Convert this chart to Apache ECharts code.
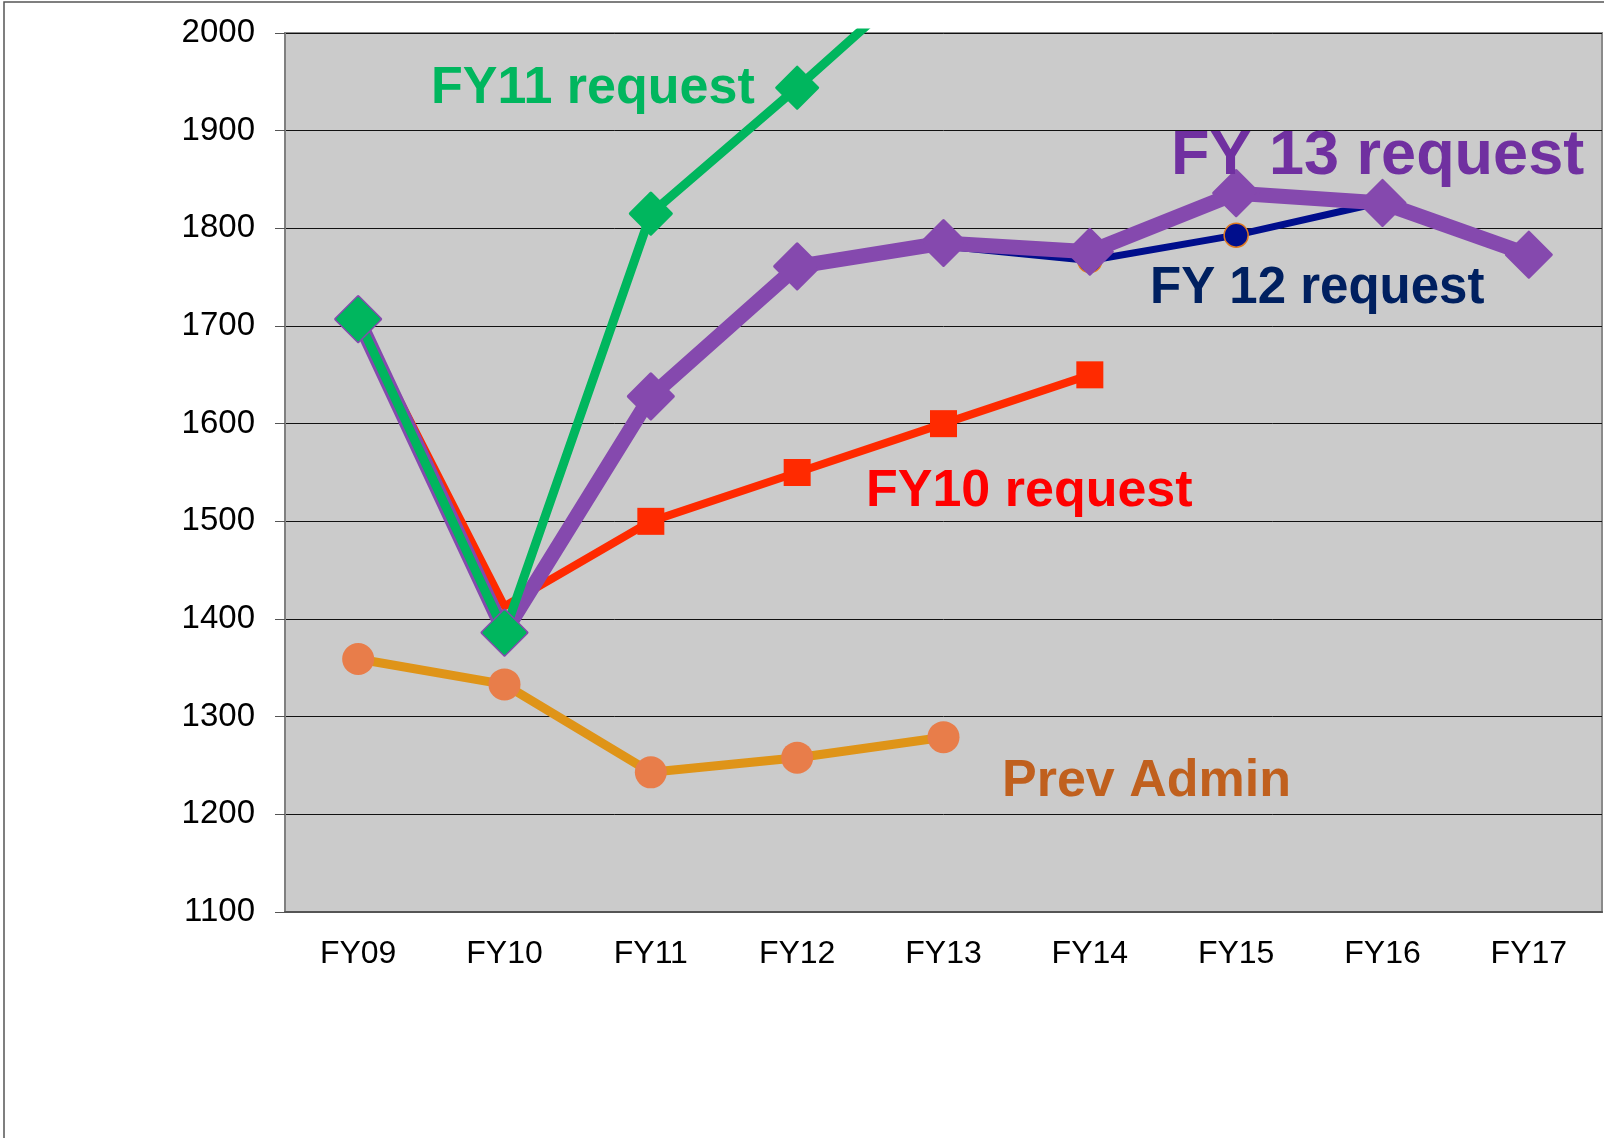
<!DOCTYPE html>
<html>
<head>
<meta charset="utf-8">
<script src="https://cdn.jsdelivr.net/npm/echarts@6/dist/echarts.min.js"></script>
<style>
  html, body { margin: 0; padding: 0; background: #fff; }
  #main { width: 1604px; height: 1138px; }
</style>
</head>
<body>
<div id="main"></div>
<script>
const years = ['FY09', 'FY10', 'FY11', 'FY12', 'FY13', 'FY14', 'FY15', 'FY16', 'FY17'];

// values (null = no point)
const fy10Request = [1707, 1413, 1500, 1550, 1600, 1650, null, null, null];
const fy12Request = [1707, 1386, 1628, 1761, 1782, 1767, 1793, 1827, null];
const fy13Request = [1707, 1386, 1628, 1761, 1785, 1776, 1836, 1826, 1773];
const fy11Request = [1707, 1386, 1815, 1944, 2078, null, null, null, null];
const prevAdmin = [1359, 1333, 1243, 1258, 1279, null, null, null, null];

// FY10 request has no visible marker on the first two years
const fy10Hidden = [0, 1];

const yMin = 1100;
const yMax = 2000;
const yStep = 100;

const font = '"Liberation Sans", Arial, sans-serif';

const chart = echarts.init(document.getElementById('main'));

function lineSeries(name, data, color, width, symbol, size, extra) {
    return Object.assign({
        name: name,
        type: 'line',
        data: data,
        symbol: symbol,
        symbolSize: size,
        showAllSymbol: true,
        connectNulls: false,
        animation: false,
        lineStyle: { color: color, width: width, join: 'round' },
        itemStyle: { color: color },
        emphasis: { disabled: true }
    }, extra || {});
}

function note(text, x, y, color, size) {
    return {
        type: 'text',
        left: x,
        top: y,
        z: 100,
        style: {
            text: text,
            fill: color,
            font: 'bold ' + size + 'px ' + font
        }
    };
}

const option = {
    backgroundColor: '#fff',
    animation: false,
    grid: {
        left: 285,
        right: 2,
        top: 33,
        bottom: 226,
        show: true,
        backgroundColor: '#cbcbcb',
        borderColor: '#8a8a8a',
        borderWidth: 2
    },
    xAxis: {
        type: 'category',
        data: years,
        boundaryGap: true,
        axisLine: { lineStyle: { color: '#555', width: 2 } },
        axisTick: { length: 10, lineStyle: { color: '#555', width: 1 } },
        axisLabel: { color: '#000', fontSize: 32, fontFamily: font, margin: 26 },
        splitLine: { show: false }
    },
    yAxis: {
        type: 'value',
        min: yMin,
        max: yMax,
        interval: yStep,
        axisLine: { show: true, lineStyle: { color: '#808080', width: 2 } },
        axisTick: { show: true, length: 10, lineStyle: { color: '#555', width: 1 } },
        axisLabel: {
            color: '#000', fontSize: 33, fontFamily: font, margin: 30,
            formatter: function (v) { return String(v); }
        },
        splitLine: { lineStyle: { color: '#111', width: 1 } }
    },
    graphic: [
        {
            type: 'rect',
            shape: { x: 4, y: 2, width: 1700, height: 1300 },
            style: { fill: 'none', stroke: '#555', lineWidth: 1.5 },
            z: -1,
            silent: true
        },
        note('FY11 request', 431, 63, '#00b65e', 52),
        note('FY 13 request', 1171, 125, '#7030a0', 63),
        note('FY 12 request', 1150, 263, '#002060', 51),
        note('FY10 request', 866, 466, '#ff0000', 52),
        note('Prev Admin', 1002, 756, '#c0601e', 52)
    ],
    series: [
        lineSeries('FY10 request', fy10Request.map(function (v, i) {
            return fy10Hidden.indexOf(i) >= 0 ? { value: v, symbol: 'none' } : v;
        }), '#ff2a00', 8, 'rect', 27),
        lineSeries('FY 12 request', fy12Request, '#000e8c', 7, 'circle', 24, {
            itemStyle: { color: '#000e8c', borderColor: '#e07a20', borderWidth: 1.5 }
        }),
        lineSeries('FY 13 request', fy13Request, '#8549ae', 15, 'diamond', 45, {
            itemStyle: { color: '#8549ae', borderColor: '#8549ae', borderWidth: 3, borderJoin: 'round' }
        }),
        lineSeries('FY11 request', fy11Request, '#00b65e', 9, 'diamond', 41, {
            itemStyle: { color: '#00b65e', borderColor: '#00b65e', borderWidth: 3, borderJoin: 'round' }
        }),
        lineSeries('Prev Admin', prevAdmin, '#df9418', 9, 'circle', 32, {
            itemStyle: { color: '#e87d4a' }
        })
    ]
};

chart.setOption(option);
</script>
</body>
</html>
